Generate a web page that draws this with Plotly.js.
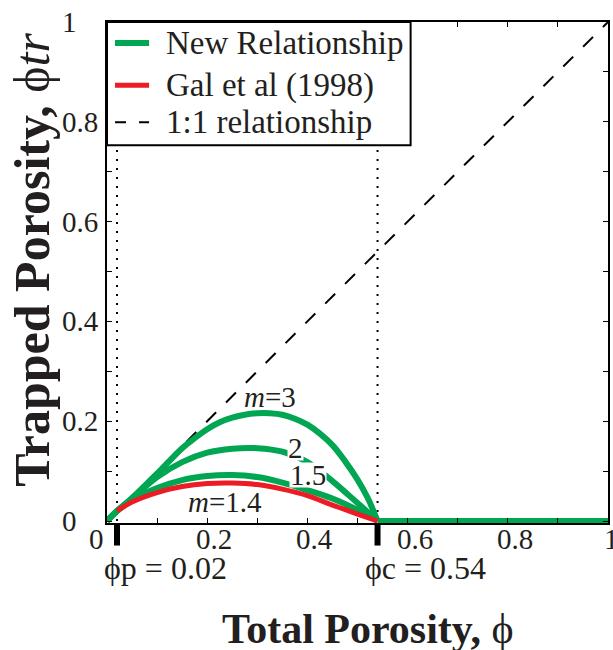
<!DOCTYPE html>
<html>
<head>
<meta charset="utf-8">
<script src="https://cdn.plot.ly/plotly-3.0.1.min.js"></script>
<style>html,body{margin:0;padding:0;background:#fff;}#chart{width:613px;height:650px;}</style>
</head>
<body>
<div id="chart"></div>
<script>
// ---- data ----
const xM3 = [0, 0.02, 0.05, 0.1, 0.15, 0.175, 0.2, 0.225, 0.25, 0.275, 0.3, 0.325, 0.35, 0.375, 0.4, 0.425, 0.45, 0.475, 0.5, 0.52, 0.54];
const yM3 = [0, 0.02, 0.046, 0.095, 0.146, 0.166, 0.184, 0.198, 0.207, 0.213, 0.216, 0.216, 0.213, 0.205, 0.193, 0.175, 0.152, 0.12, 0.083, 0.047, 0];
const xM2 = [0, 0.02, 0.05, 0.1, 0.15, 0.2, 0.25, 0.3, 0.35, 0.4, 0.45, 0.5, 0.54];
const yM2 = [0, 0.02, 0.045, 0.088, 0.118, 0.137, 0.145, 0.146, 0.139, 0.118, 0.08, 0.036, 0];
const xM15 = [0, 0.02, 0.05, 0.1, 0.15, 0.2, 0.25, 0.3, 0.35, 0.4, 0.45, 0.5, 0.54];
const yM15 = [0, 0.02, 0.042, 0.066, 0.082, 0.09, 0.092, 0.088, 0.077, 0.062, 0.045, 0.022, 0];
const xFlat = [0.54, 1];
const yFlat = [0, 0];
const xGal = [0.02, 0.05, 0.1, 0.15, 0.2, 0.25, 0.3, 0.35, 0.4, 0.45, 0.5, 0.54];
const yGal = [0.02, 0.038, 0.057, 0.069, 0.075, 0.076, 0.073, 0.064, 0.051, 0.032, 0.014, 0];
const xOne = [0, 1];
const yOne = [0, 1];
const phiP = 0.02;
const phiC = 0.54;
const tickVals = [0, 0.1, 0.2, 0.3, 0.4, 0.5, 0.6, 0.7, 0.8, 0.9, 1];
const labelVals = [0, 0.2, 0.4, 0.6, 0.8, 1];
const labelText = ['0', '0.2', '0.4', '0.6', '0.8', '1'];
const legendNames = ['New Relationship', 'Gal et al (1998)', '1:1 relationship'];
const curveLabels = [
  {x: 0.325, y: 0.249, text: '<i>m</i>=3'},
  {x: 0.377, y: 0.147, text: '2'},
  {x: 0.401, y: 0.093, text: '1.5'},
  {x: 0.236, y: 0.038, text: '<i>m</i>=1.4'}
];

const GREEN = '#00a651';
const RED = '#ed1c24';
const FONT = 'Liberation Serif';
const TXT = '#231f20';

const sm = {shape: 'spline', smoothing: 1};
const greenLine = Object.assign({color: GREEN, width: 6}, sm);
const redLine = Object.assign({color: RED, width: 5}, sm);
const dashLine = {color: '#000', width: 2, dash: '14px,14px'};
const dotLine = {color: '#000', width: 2, dash: '2px,7px'};

const traces = [
  {x: [phiP, phiP], y: [0, 1], mode: 'lines', line: dotLine, hoverinfo: 'skip'},
  {x: [phiC, phiC], y: [0, 1], mode: 'lines', line: dotLine, hoverinfo: 'skip'},
  {x: xOne, y: yOne, mode: 'lines', name: legendNames[2], line: dashLine},
  {x: xM3, y: yM3, mode: 'lines', name: legendNames[0] + ' m=3', line: greenLine},
  {x: xM2, y: yM2, mode: 'lines', name: legendNames[0] + ' m=2', line: greenLine},
  {x: xM15, y: yM15, mode: 'lines', name: legendNames[0] + ' m=1.5', line: greenLine},
  {x: xFlat, y: yFlat, mode: 'lines', name: legendNames[0], line: {color: GREEN, width: 6}},
  {x: xGal, y: yGal, mode: 'lines', name: legendNames[1], line: redLine}
];

const annotations = [];
labelVals.forEach((v, i) => {
  annotations.push({xref: 'paper', yref: 'y', x: -0.094, y: v, xanchor: 'left', yanchor: 'middle',
    text: labelText[i], showarrow: false, font: {family: FONT, size: 29, color: TXT}});
  const last = i === labelVals.length - 1;
  annotations.push({xref: 'x', yref: 'paper', x: v, y: 0, yanchor: 'middle', yshift: -16,
    xanchor: i === 0 ? 'right' : 'center', xshift: i === 0 ? -1 : (last ? 3 : 7),
    text: labelText[i], showarrow: false, font: {family: FONT, size: 29, color: TXT}});
});
curveLabels.forEach(c => {
  annotations.push({xref: 'x', yref: 'y', x: c.x, y: c.y, text: c.text, showarrow: false, height: 24,
    bgcolor: '#fff', borderpad: 0, font: {family: FONT, size: 29, color: TXT}});
});
[[phiP, 'ϕp = 0.02'], [phiC, 'ϕc = 0.54']].forEach(p => {
  annotations.push({xref: 'x', yref: 'paper', x: p[0], y: 0, xanchor: 'left', yanchor: 'middle',
    xshift: -15, yshift: -45, text: p[1], showarrow: false, font: {family: FONT, size: 32, color: TXT}});
});
annotations.push({xref: 'paper', yref: 'paper', x: 0.52, y: 0, yanchor: 'middle', yshift: -106,
  text: '<b>Total Porosity,</b> ϕ', showarrow: false, font: {family: FONT, size: 42, color: TXT}});
annotations.push({xref: 'paper', yref: 'paper', x: -0.15, y: 0.525, xanchor: 'center', yanchor: 'middle',
  textangle: -90, text: '<b>Trapped Porosity,</b> ϕ<i>tr</i>', showarrow: false,
  font: {family: FONT, size: 50, color: TXT}});

// legend box (drawn as layout decoration in paper coordinates)
const legRows = [0.958, 0.874, 0.800];
const legStyles = [
  {color: GREEN, width: 6},
  {color: RED, width: 5},
  {color: '#000', width: 2, dash: '11px,13px'}
];
const shapes = [phiP, phiC].map(v => ({type: 'line', xref: 'x', yref: 'paper', x0: v, x1: v, y0: 0, y1: -0.045,
  line: {color: '#000', width: 6}}));
shapes.push({type: 'rect', xref: 'paper', yref: 'paper', x0: 0, x1: 0.606, y0: 0.754, y1: 1,
  fillcolor: '#fff', line: {color: '#000', width: 2}});
legRows.forEach((r, i) => {
  shapes.push({type: 'line', xref: 'paper', yref: 'paper', x0: 0.016, x1: 0.084, y0: r, y1: r, line: legStyles[i]});
  annotations.push({xref: 'paper', yref: 'paper', x: 0.114, y: r, xanchor: 'left', yanchor: 'middle',
    text: legendNames[i], showarrow: false, font: {family: FONT, size: 33, color: TXT}});
});

const axisCommon = {
  tickmode: 'array', tickvals: tickVals, ticks: 'inside', ticklen: 5, tickwidth: 1, tickcolor: '#000',
  showticklabels: false, showline: true, linecolor: '#000', linewidth: 2, mirror: 'ticks',
  showgrid: false, zeroline: false, fixedrange: true
};

const layout = {
  width: 613, height: 650,
  margin: {l: 107, r: 5, t: 22, b: 127},
  paper_bgcolor: '#fff', plot_bgcolor: '#fff',
  font: {family: FONT, color: TXT},
  xaxis: Object.assign({}, axisCommon, {range: [0, 1]}),
  yaxis: Object.assign({}, axisCommon, {range: [-0.004, 1]}),
  showlegend: false,
  annotations: annotations,
  shapes: shapes
};

Plotly.newPlot('chart', traces, layout, {displayModeBar: false, staticPlot: true});
</script>
</body>
</html>
